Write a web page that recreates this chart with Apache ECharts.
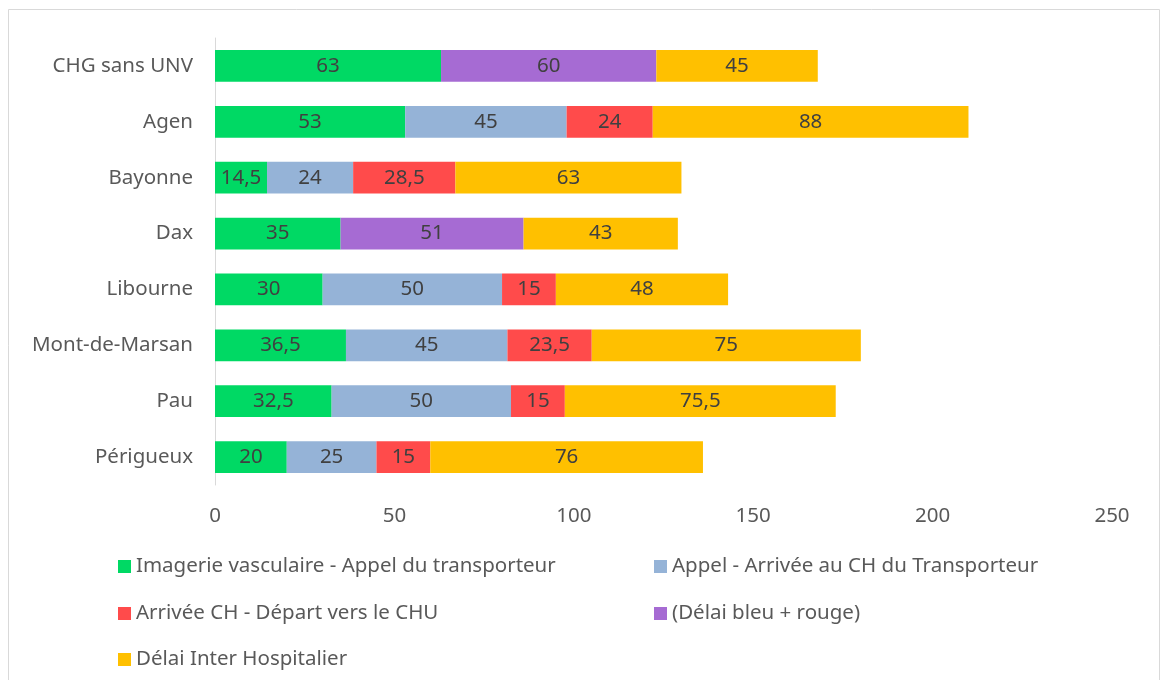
<!DOCTYPE html>
<html>
<head>
<meta charset="utf-8">
<script src="https://cdn.jsdelivr.net/npm/echarts@6/dist/echarts.min.js"></script>
<style>
  html, body { margin: 0; padding: 0; background: #fff; }
  #chart { width: 1162px; height: 680px; }
</style>
</head>
<body>
<div id="chart"></div>
<script>
// categories, top to bottom
var villes = ["CHG sans UNV", "Agen", "Bayonne", "Dax", "Libourne", "Mont-de-Marsan", "Pau", "Périgueux"];

var imagerieAppel = [63, 53, 14.5, 35, 30, 36.5, 32.5, 20];
var appelArrivee = [null, 45, 24, null, 50, 45, 50, 25];
var arriveeDepart = [null, 24, 28.5, null, 15, 23.5, 15, 15];
var delaiBleuRouge = [60, null, null, 51, null, null, null, null];
var delaiInterHosp = [45, 88, 63, 43, 48, 75, 75.5, 76];

var xTicks = [0, 50, 100, 150, 200, 250];

var police = "'Noto Sans', sans-serif";
var taille = 20.5;

/**
 * une serie empilee
 */
var serie = function(nom, valeurs, couleur){
    return {
        name: nom,
        type: "bar",
        stack: "total",
        barWidth: "57%",
        data: valeurs,
        itemStyle: { color: couleur },
        label: {
            show: true,
            position: "inside",
            color: "#404040",
            fontSize: taille,
            fontFamily: police,
            formatter: function(p){
                return String(p.value).replace(".", ",");
            }
        }
    };
};

// legende : une par item pour garder les deux colonnes
var legende = function(nom, gauche, haut){
    return {
        data: [nom],
        left: gauche,
        top: haut,
        itemWidth: 13,
        itemHeight: 13,
        itemGap: 6,
        icon: "rect",
        textStyle: { color: "#595959", fontSize: taille, fontFamily: police }
    };
};

var chart = echarts.init(document.getElementById("chart"));

chart.setOption({
    animation: false,
    backgroundColor: "#fff",
    graphic: [{
        type: "rect",
        shape: { x: 8.5, y: 9.5, width: 1151, height: 680 },
        style: { fill: null, stroke: "#d9d9d9", lineWidth: 1 }
    }],
    grid: { left: 215, right: 50, top: 38, bottom: 195 },
    xAxis: {
        type: "value",
        min: xTicks[0],
        max: xTicks[xTicks.length - 1],
        interval: 50,
        splitLine: { show: false },
        axisLine: { show: false },
        axisTick: { show: false },
        axisLabel: { color: "#595959", fontSize: taille, fontFamily: police, margin: 21 }
    },
    yAxis: {
        type: "category",
        inverse: true,
        data: villes,
        axisLine: { show: true, lineStyle: { color: "#d9d9d9", width: 1 } },
        axisTick: { show: false },
        axisLabel: { color: "#595959", fontSize: taille, fontFamily: police, margin: 22 }
    },
    legend: [
        legende("Imagerie vasculaire - Appel du transporteur", 113, 551),
        legende("Appel - Arrivée au CH du Transporteur", 649, 551),
        legende("Arrivée CH - Départ vers le CHU", 113, 598),
        legende("(Délai bleu + rouge)", 649, 598),
        legende("Délai Inter Hospitalier", 113, 644)
    ],
    series: [
        serie("Imagerie vasculaire - Appel du transporteur", imagerieAppel, "#00D964"),
        serie("Appel - Arrivée au CH du Transporteur", appelArrivee, "#95B3D7"),
        serie("Arrivée CH - Départ vers le CHU", arriveeDepart, "#FF4B4B"),
        serie("(Délai bleu + rouge)", delaiBleuRouge, "#A66BD3"),
        serie("Délai Inter Hospitalier", delaiInterHosp, "#FFC000")
    ]
});
</script>
</body>
</html>
